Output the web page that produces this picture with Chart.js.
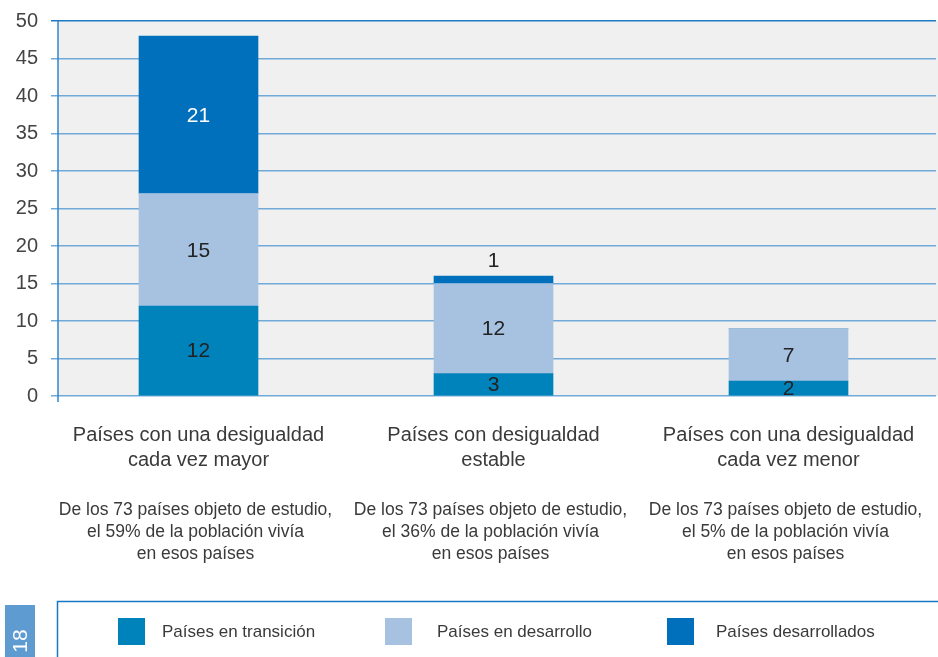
<!DOCTYPE html>
<html>
<head>
<meta charset="utf-8">
<script src="https://cdn.jsdelivr.net/npm/chart.js@4"></script>
<style>
  html, body { margin: 0; padding: 0; background: #fff; }
  #wrap { width: 938px; height: 657px; position: relative; }
</style>
</head>
<body>
<div id="wrap"><canvas id="chart"></canvas></div>
<script>
const categories = [
  ['Países con una desigualdad', 'cada vez mayor'],
  ['Países con desigualdad', 'estable'],
  ['Países con una desigualdad', 'cada vez menor']
];
const notes = [
  ['De los 73 países objeto de estudio,', 'el 59% de la población vivía', 'en esos países'],
  ['De los 73 países objeto de estudio,', 'el 36% de la población vivía', 'en esos países'],
  ['De los 73 países objeto de estudio,', 'el 5% de la población vivía', 'en esos países']
];
const transicion = [12, 3, 2];
const desarrollo = [15, 12, 7];
const desarrollados = [21, 1, 0];
const yTicks = [0, 5, 10, 15, 20, 25, 30, 35, 40, 45, 50];
const pageNumber = '18';

const FONT = '"Liberation Sans", Arial, sans-serif';
const TEXT = '#3a3a3a';

// grey plot background + y axis line
const backdrop = {
  id: 'backdrop',
  beforeDraw(chart) {
    const { ctx, chartArea } = chart;
    ctx.save();
    ctx.fillStyle = '#f0f0f0';
    ctx.fillRect(58, chartArea.top, 938 - 58, chartArea.bottom - chartArea.top);
    ctx.restore();
  },
  afterDraw(chart) {
    const { ctx, chartArea } = chart;
    ctx.save();
    ctx.strokeStyle = '#2f86cc';
    ctx.lineWidth = 1.5;
    ctx.beginPath();
    ctx.moveTo(58, chartArea.top);
    ctx.lineTo(58, chartArea.bottom + 6);
    ctx.stroke();
    ctx.restore();
  }
};

// numbers inside the bar segments
const segLabels = {
  id: 'segLabels',
  afterDatasetsDraw(chart) {
    const { ctx } = chart;
    ctx.save();
    ctx.font = '21px ' + FONT;
    ctx.textAlign = 'center';
    ctx.textBaseline = 'middle';
    chart.data.datasets.forEach((ds, di) => {
      const meta = chart.getDatasetMeta(di);
      meta.data.forEach((el, i) => {
        const v = ds.data[i];
        if (!v) return;
        let y = (el.y + el.base) / 2 + 1;
        let color = ds.labelColor;
        if (v < 2) {
          y = el.y - 15;
          color = '#222';
        }
        ctx.fillStyle = color;
        ctx.fillText(String(v), el.x, y);
      });
    });
    ctx.restore();
  }
};

// notes below the category labels, legend box, page number
const extras = {
  id: 'extras',
  afterDraw(chart) {
    const { ctx } = chart;
    const x = chart.scales.x;
    ctx.save();
    ctx.fillStyle = TEXT;
    ctx.font = '17.5px ' + FONT;
    ctx.textAlign = 'center';
    ctx.textBaseline = 'middle';
    notes.forEach((lines, i) => {
      const cx = x.getPixelForValue(i) - 3;
      lines.forEach((t, j) => ctx.fillText(t, cx, 510 + j * 22));
    });

    // legend
    ctx.strokeStyle = '#1a78c2';
    ctx.lineWidth = 1.5;
    ctx.strokeRect(57.5, 601.5, 900, 80);
    const lx = [118, 385, 667];
    const tx = [162, 437, 716];
    ctx.textAlign = 'left';
    ctx.font = '17px ' + FONT;
    chart.data.datasets.forEach((ds, i) => {
      ctx.fillStyle = ds.backgroundColor;
      ctx.fillRect(lx[i], 618, 27, 27);
      ctx.fillStyle = TEXT;
      ctx.fillText(ds.label, tx[i], 632);
    });

    // page number tab
    ctx.fillStyle = '#5e9bd0';
    ctx.fillRect(5, 605, 30, 60);
    ctx.translate(20, 641);
    ctx.rotate(-Math.PI / 2);
    ctx.fillStyle = '#fff';
    ctx.font = '21px ' + FONT;
    ctx.textAlign = 'center';
    ctx.fillText(pageNumber, 0, 1);
    ctx.restore();
  }
};

new Chart(document.getElementById('chart').getContext('2d'), {
  type: 'bar',
  data: {
    labels: categories,
    datasets: [
      { label: 'Países en transición', data: transicion, backgroundColor: '#0082ba', labelColor: '#222' },
      { label: 'Países en desarrollo', data: desarrollo, backgroundColor: '#a6c2e0', labelColor: '#222' },
      { label: 'Países desarrollados', data: desarrollados, backgroundColor: '#0070bd', labelColor: '#fff' }
    ]
  },
  options: {
    responsive: true,
    maintainAspectRatio: false,
    animation: false,
    barThickness: 119,
    layout: { padding: { top: 21, right: 2, left: 0, bottom: 0 } },
    scales: {
      x: {
        stacked: true,
        grid: { display: false, drawTicks: false },
        border: { display: false },
        ticks: {
          color: TEXT,
          font: { family: FONT, size: 20, lineHeight: 1.25 },
          padding: 27,
          maxRotation: 0,
          autoSkip: false
        },
        afterFit: s => {
          s.height = 657 - 396;
          s.paddingLeft = 0;
          s.paddingRight = 0;
        }
      },
      y: {
        stacked: true,
        min: 0,
        max: 50,
        afterBuildTicks: s => { s.ticks = yTicks.map(v => ({ value: v })); },
        grid: {
          color: c => (c.tick && c.tick.value === 50 ? '#1f7ac4' : '#70aad9'),
          lineWidth: 1.5,
          tickLength: 0
        },
        border: { display: false },
        ticks: {
          color: '#444',
          font: { family: FONT, size: 20 },
          padding: 13
        },
        afterFit: s => {
          s.width = 51;
          s.paddingTop = 0;
          s.paddingBottom = 0;
        }
      }
    },
    plugins: {
      legend: { display: false },
      tooltip: { enabled: false }
    }
  },
  plugins: [backdrop, segLabels, extras]
});
</script>
</body>
</html>
